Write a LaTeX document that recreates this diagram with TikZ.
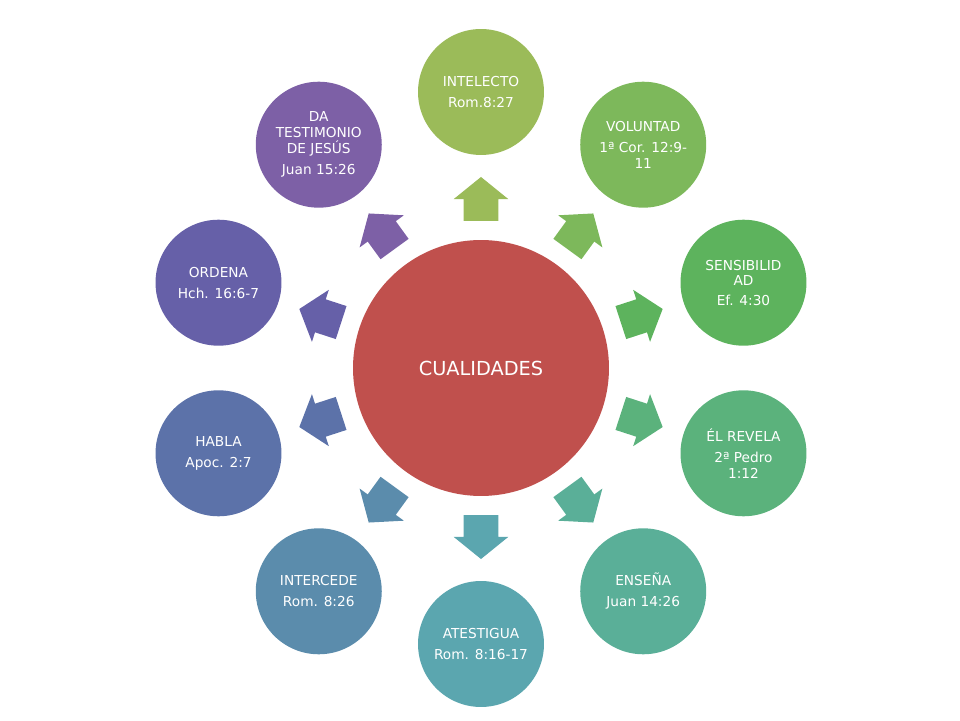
\documentclass[tikz,border=0pt]{standalone}
\usepackage{fontspec}
\setmainfont{DejaVu Sans}
\usetikzlibrary{shapes.arrows}
\definecolor{rojo}{HTML}{C0504D}
\definecolor{verdeA}{HTML}{9BBB59}
\definecolor{verdeB}{HTML}{7DB85B}
\definecolor{verdeC}{HTML}{5DB35D}
\definecolor{verdeD}{HTML}{5BB27C}
\definecolor{verdeE}{HTML}{5AAF98}
\definecolor{azulA}{HTML}{5BA6AF}
\definecolor{azulB}{HTML}{5B8CAC}
\definecolor{azulC}{HTML}{5C72A9}
\definecolor{moradoA}{HTML}{6660A8}
\definecolor{moradoB}{HTML}{7D60A6}
\tikzset{
  cualidad/.style={circle, fill=#1, minimum size=2.52cm, inner sep=0pt, text=white,
    align=center, font=\fontsize{7.8}{9}\selectfont},
  flecha/.style={single arrow, fill=#1, draw=none, minimum height=0.88cm, minimum width=1.08cm,
    single arrow head extend=0.2cm, single arrow tip angle=102,
    inner xsep=0pt, inner ysep=0.34cm}
}
\begin{document}
\begin{tikzpicture}[x=0.02cm,y=0.02cm]
\useasboundingbox (-481,-352) rectangle (479,368);
% centro
\node[circle, fill=rojo, minimum size=5.12cm, text=white,
  font=\fontsize{11}{13}\selectfont] (cualidades) at (0,0) {CUALIDADES};
% circulos y flechas
\foreach \ang/\col/\nombre/\txt in {
  90/verdeA/intelecto/{INTELECTO\\[3pt]Rom.8:27},
  54/verdeB/voluntad/{VOLUNTAD\\[3pt]1ª Cor. 12:9-\\11},
  18/verdeC/sensibilidad/{SENSIBILID\\AD\\[2pt]Ef. 4:30},
  -18/verdeD/revela/{ÉL REVELA\\[3pt]2ª Pedro\\1:12},
  -54/verdeE/ensena/{ENSEÑA\\[3pt]Juan 14:26},
  -90/azulA/atestigua/{ATESTIGUA\\[3pt]Rom. 8:16-17},
  -126/azulB/intercede/{INTERCEDE\\[3pt]Rom. 8:26},
  -162/azulC/habla/{HABLA\\[3pt]Apoc. 2:7},
  162/moradoA/ordena/{ORDENA\\[3pt]Hch. 16:6-7},
  126/moradoB/testimonio/{DA\\TESTIMONIO\\DE JESÚS\\[3pt]Juan 15:26}} {
  \node[cualidad=\col] (\nombre) at (\ang:276) {\txt};
  \node[flecha=\col, rotate=\ang] (f\nombre) at (\ang:162) {};
}
\end{tikzpicture}
\end{document}
